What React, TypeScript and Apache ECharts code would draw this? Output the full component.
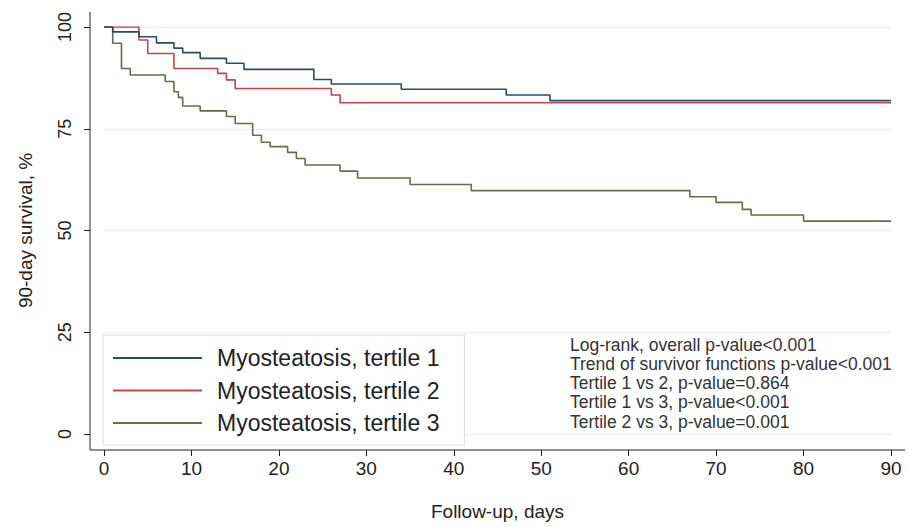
import React, { useEffect, useRef } from "react";
import * as echarts from "echarts";

const SERIES_NAMES = ["Myosteatosis, tertile 1", "Myosteatosis, tertile 2", "Myosteatosis, tertile 3"];
const SERIES_COLORS = ["#2b4a6c", "#bf4550", "#5c7248"];

const T1_DAYS = [0, 1, 4, 6, 8, 9, 11, 14, 16, 24, 26, 34, 46, 51, 90];
const T1_SURV = [100, 98.8, 97.6, 96.1, 94.8, 93.7, 92.3, 91.1, 89.6, 87.1, 86.0, 84.7, 83.3, 81.9, 81.9];

const T2_DAYS = [0, 4, 5, 8, 13, 14, 15, 26, 27, 90];
const T2_SURV = [100, 96.8, 93.5, 89.8, 88.6, 87.0, 84.9, 83.3, 81.4, 81.4];

const T3_DAYS = [0, 1, 2, 3, 7, 8, 8.5, 9, 11, 14, 15, 17, 18, 19, 21, 22, 23, 27, 29, 35, 42, 67, 70, 73, 74, 80, 90];
const T3_SURV = [100, 96.0, 89.8, 88.2, 86.6, 84.1, 82.7, 80.6, 79.4, 78.0, 76.3, 73.4, 71.7, 70.6, 69.2, 67.7, 66.1, 64.6, 62.9, 61.3, 59.8, 58.3, 56.9, 55.2, 53.8, 52.3, 52.3];

const X_MIN = 0;
const X_MAX = 90;
const X_STEP = 10;
const Y_MIN = 0;
const Y_MAX = 100;
const Y_STEP = 25;

const ANNOTATION_LINES = [
  "Log-rank, overall p-value<0.001",
  "Trend of survivor functions p-value<0.001",
  "Tertile 1 vs 2, p-value=0.864",
  "Tertile 1 vs 3, p-value<0.001",
  "Tertile 2 vs 3, p-value=0.001",
];

const FONT = "'Liberation Sans', Arial, Helvetica, sans-serif";
const AXIS_COLOR = "#222";

function zip(xs: number[], ys: number[]) {
  return xs.map((x, i) => [x, ys[i]]);
}

export default function App() {
  const ref = useRef<HTMLDivElement>(null);
  useEffect(() => {
    if (!ref.current) return;
    const chart = echarts.init(ref.current, undefined, { renderer: "svg" });
    const datasets = [zip(T1_DAYS, T1_SURV), zip(T2_DAYS, T2_SURV), zip(T3_DAYS, T3_SURV)];
    chart.setOption({
      animation: false,
      backgroundColor: "#ffffff",
      textStyle: { fontFamily: FONT },
      grid: { left: 104, right: 17, top: 27, bottom: 93, containLabel: false },
      xAxis: {
        type: "value",
        min: X_MIN,
        max: X_MAX,
        interval: X_STEP,
        offset: 16,
        name: "Follow-up, days",
        nameLocation: "middle",
        nameGap: 52,
        nameTextStyle: { fontSize: 19, color: AXIS_COLOR, fontFamily: FONT },
        axisLine: { show: false, onZero: false },
        axisTick: { show: true, length: 6, lineStyle: { color: AXIS_COLOR } },
        axisLabel: { fontSize: 19, color: AXIS_COLOR, margin: 9, fontFamily: FONT },
        splitLine: { show: false },
      },
      yAxis: {
        type: "value",
        min: Y_MIN,
        max: Y_MAX,
        interval: Y_STEP,
        offset: 14,
        name: "90-day survival, %",
        nameLocation: "middle",
        nameGap: 55,
        nameRotate: 90,
        nameTextStyle: { fontSize: 19, color: AXIS_COLOR, fontFamily: FONT },
        axisLine: { show: false, onZero: false },
        axisTick: { show: true, length: 6, lineStyle: { color: AXIS_COLOR } },
        axisLabel: {
          show: true,
          rotate: 90,
          fontSize: 18,
          color: AXIS_COLOR,
          margin: 16,
          fontFamily: FONT,
        },
        splitLine: { show: true, lineStyle: { color: "#ececec", width: 1 } },
      },
      legend: {
        data: SERIES_NAMES,
        orient: "vertical",
        left: 103,
        top: 335,
        icon: "rect",
        itemWidth: 89,
        itemHeight: 2,
        itemGap: 9.5,
        padding: [11.5, 25, 10.5, 10],
        borderColor: "#dddddd",
        borderWidth: 1,
        backgroundColor: "#ffffff",
        textStyle: { fontSize: 23, color: AXIS_COLOR, lineHeight: 23, fontFamily: FONT, padding: [0, 0, 0, 10] },
        selectedMode: false,
      },
      graphic: [
        { type: "line", z: 50, shape: { x1: 90, y1: 450, x2: 905, y2: 450 }, style: { stroke: AXIS_COLOR, lineWidth: 1 } },
        { type: "line", z: 50, shape: { x1: 90, y1: 12, x2: 90, y2: 450 }, style: { stroke: AXIS_COLOR, lineWidth: 1 } },
        {
          type: "text",
          left: 570,
          top: 335,
          z: 100,
          style: {
            text: ANNOTATION_LINES.join("\n"),
            fontSize: 17.5,
            lineHeight: 19.25,
            fill: "#333",
            fontFamily: FONT,
          },
        },
      ],
      series: SERIES_NAMES.map((name, i) => ({
        type: "line",
        name,
        data: datasets[i],
        step: "end",
        showSymbol: false,
        symbol: "none",
        z: 3 + (2 - i),
        lineStyle: { color: SERIES_COLORS[i], width: 1.6 },
        itemStyle: { color: SERIES_COLORS[i] },
      })),
    });

    return () => chart.dispose();
  }, []);
  return (
    <div
      ref={ref}
      style={{ position: "absolute", left: 0, top: 0, width: 908, height: 527, background: "#fff" }}
    />
  );
}
